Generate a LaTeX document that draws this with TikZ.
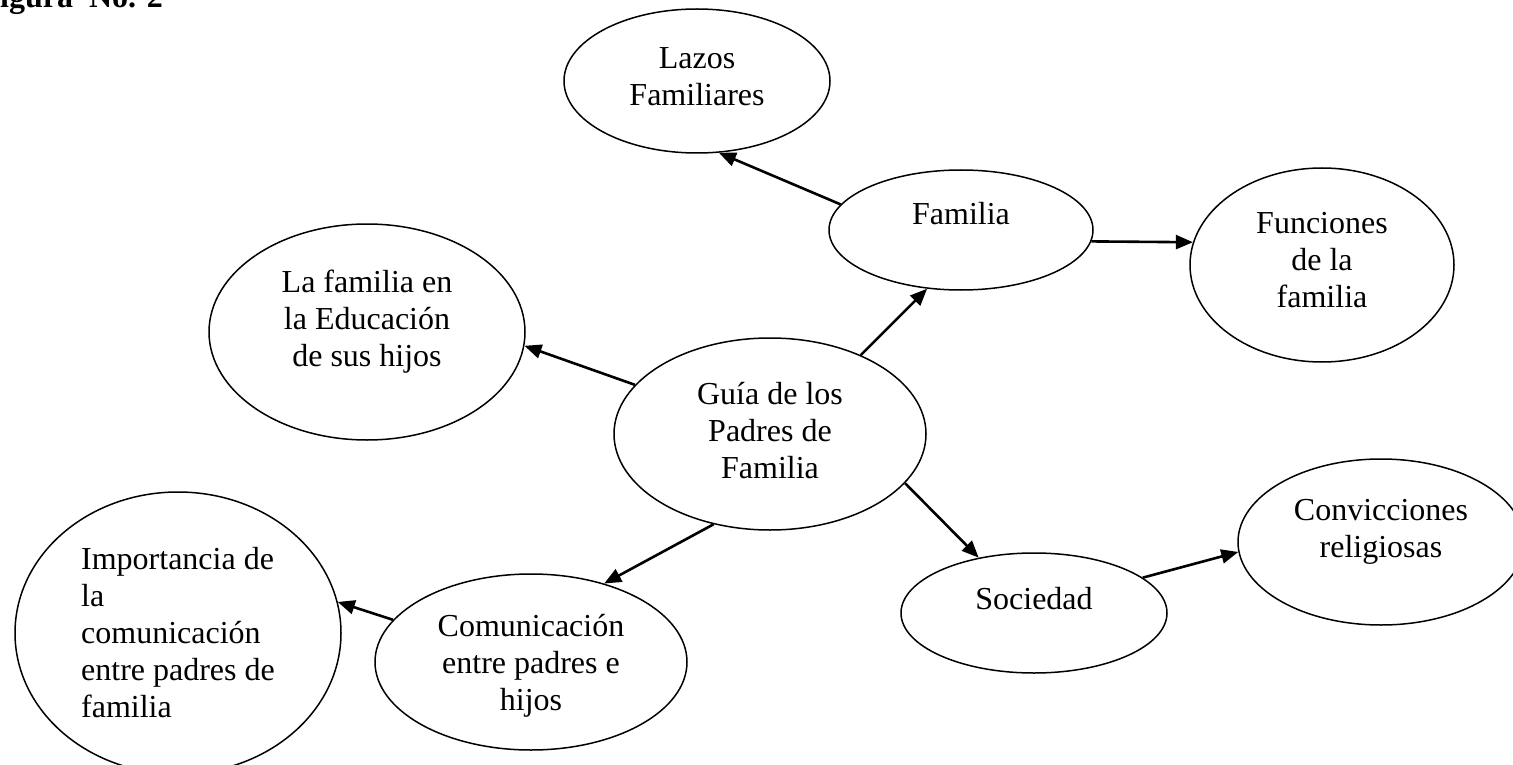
\documentclass[tikz,border=0pt]{standalone}
\usepackage{fontspec}
\setmainfont{Liberation Serif}
\usetikzlibrary{arrows.meta, shapes.geometric}
\tikzset{
  bubble/.style={ellipse, draw, line width=1.5pt, align=center, inner sep=0pt,
                 font=\fontsize{32}{37}\selectfont},
  arr/.style={-{Triangle[length=17pt, width=14pt]}, line width=2.6pt},
}

\begin{document}
\begin{tikzpicture}[x=1pt, y=-1pt]
  \useasboundingbox (0,0) rectangle (1513,765);
  \node[anchor=base west, inner sep=0pt, font=\fontsize{32}{37}\selectfont\bfseries] (titulo) at (0,8) {igura\ \ No. 2};
  % nodos
  \node[bubble, minimum width=266pt, minimum height=144pt, text depth=9pt] (lazos) at (697,81) {Lazos\\Familiares};
  \node[bubble, minimum width=264pt, minimum height=120pt, text depth=34pt] (familia) at (961,230) {Familia};
  \node[bubble, minimum width=264pt, minimum height=194pt, text depth=10pt] (funciones) at (1322,265) {Funciones\\de la\\familia};
  \node[bubble, minimum width=316pt, minimum height=216pt, text depth=28pt] (educacion) at (367,332) {La familia en\\la Educación\\de sus hijos};
  \node[bubble, minimum width=312pt, minimum height=192pt, text depth=8pt] (guia) at (770,434) {Guía de los\\Padres de\\Familia};
  \node[bubble, align=left, minimum width=326pt, minimum height=282pt] (importancia) at (178,633) {Importancia de\\la\\comunicación\\entre padres de\\familia};
  \node[bubble, minimum width=312pt, minimum height=176pt, text depth=0pt] (comunicacion) at (531,662) {Comunicación\\entre padres e\\hijos};
  \node[bubble, minimum width=266pt, minimum height=120pt, text depth=30pt] (sociedad) at (1034,613) {Sociedad};
  \node[bubble, minimum width=286pt, minimum height=166pt, text depth=27pt] (convicciones) at (1381,542) {Convicciones\\religiosas};
  % flechas
  \draw[arr] (familia.168) -- (lazos.287);
  \draw[arr] (familia.355) -- (funciones.170);
  \draw[arr] (guia.41) -- (familia.240);
  \draw[arr] (guia.160) -- (educacion.355);
  \draw[arr] (guia.238) -- (comunicacion.47);
  \draw[arr] (comunicacion.163) -- (importancia.11);
  \draw[arr] (guia.340) -- (sociedad.135);
  \draw[arr] (sociedad.18) -- (convicciones.184);
\end{tikzpicture}
\end{document}
